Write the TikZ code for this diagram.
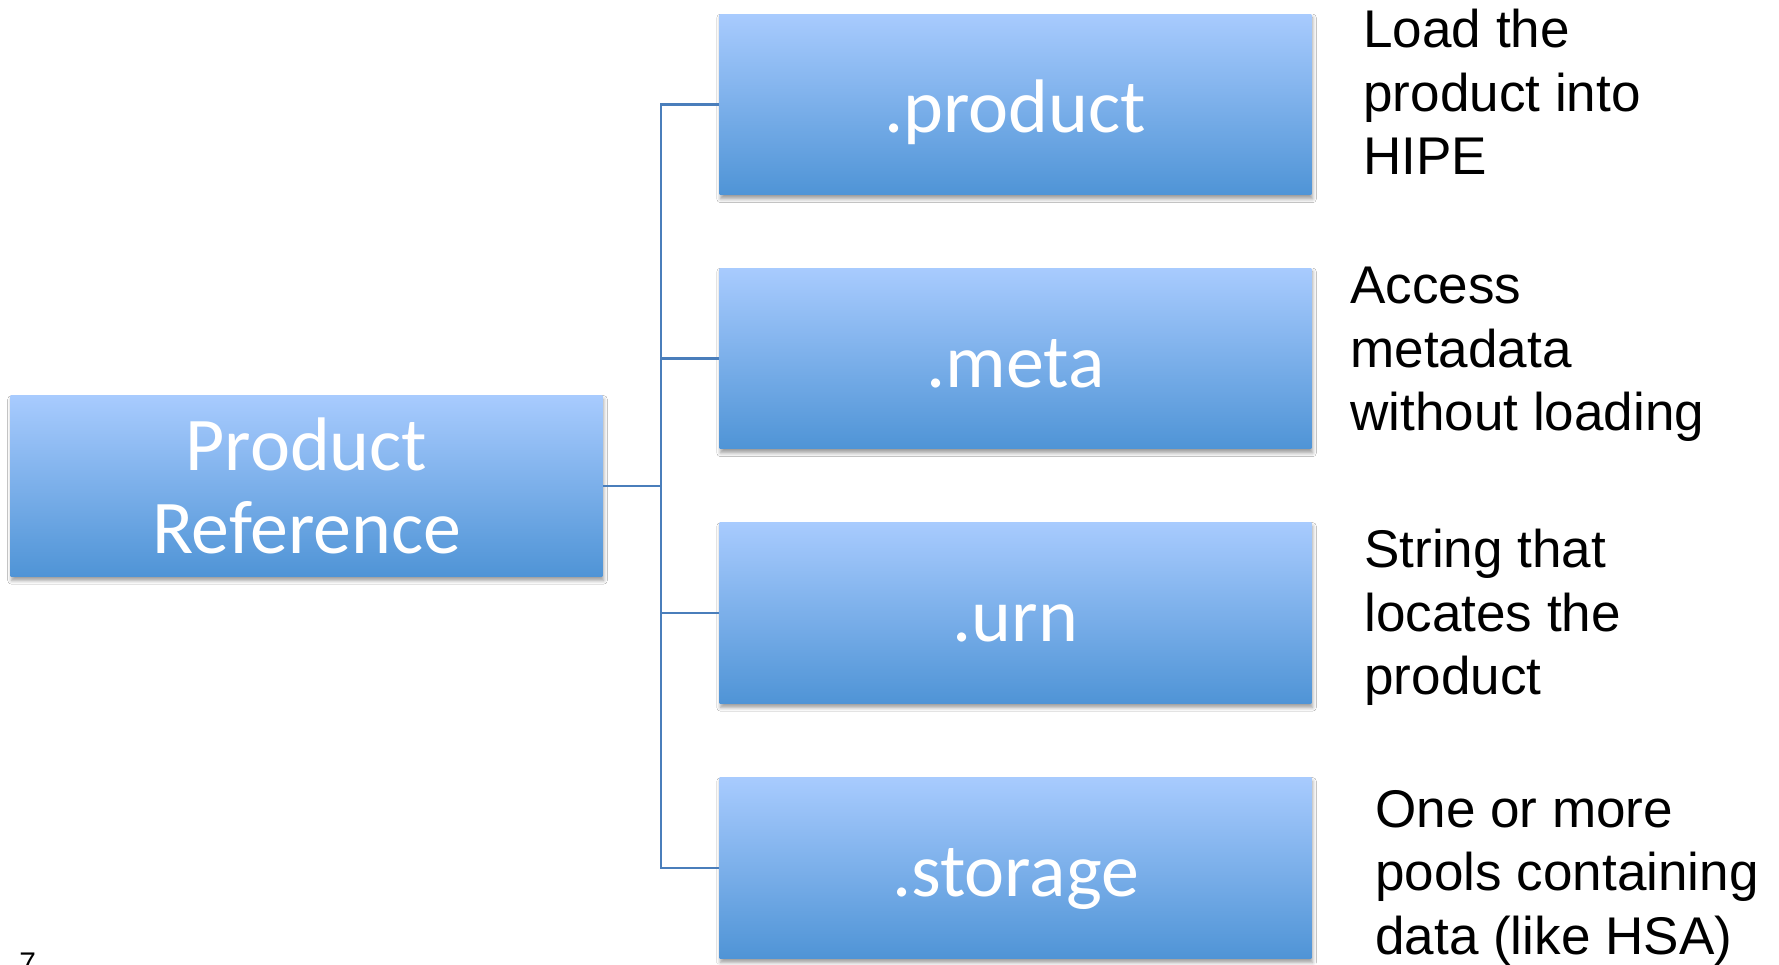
\documentclass[tikz,border=0pt]{standalone}
\usepackage{fontspec}
\setmainfont{Liberation Sans}
\newfontfamily\boxfont{Carlito}
\usetikzlibrary{shadows.blur}
\definecolor{boxtop}{RGB}{168,203,254}
\definecolor{boxbot}{RGB}{79,148,214}
\definecolor{linkblue}{RGB}{74,126,187}
\tikzset{
  keybox/.style={
    rectangle, draw=none, inner sep=0pt,
    top color=boxtop, bottom color=boxbot,
    minimum width=11.84cm, minimum height=3.62cm,
    text=white, align=center,
    font=\boxfont\fontsize{43.2}{47.2}\selectfont,
    blur shadow={shadow xshift=0.6pt, shadow yshift=-2.2pt,
                 shadow blur radius=2.2pt, shadow opacity=40}},
  onelinebox/.style={keybox, text height=1.46cm, text depth=0.32cm},
  note/.style={anchor=north west, inner sep=0pt, align=left,
    font=\fontsize{30.2}{36.1}\selectfont},
  link/.style={draw=linkblue, line width=1.2pt}
}
\begin{document}
\begin{tikzpicture}[x=0.02cm, y=-0.02cm]
  \useasboundingbox[fill=white] (0,0) rectangle (1779,964);

  % root and child boxes
  \node[keybox] (root) at (306.5,486) {Product\\Reference};
  \node[onelinebox] (prod) at (1015.5,104.5) {.product};
  \node[onelinebox] (meta) at (1015.5,358.5) {.meta};
  \node[onelinebox] (urn)  at (1015.5,613)   {.urn};
  \node[onelinebox] (stor) at (1015.5,868)   {.storage};

  % tree connector
  \coordinate (hub) at (661,486);
  \draw[link] (root.east) -- (hub);
  \draw[link] (prod.west) -- (prod.west -| hub) -- (stor.west -| hub) -- (stor.west);
  \draw[link] (meta.west) -- (meta.west -| hub);
  \draw[link] (urn.west) -- (urn.west -| hub);

  % descriptions
  \node[note] (dprod) at (1363,9)   {Load the\\product into\\HIPE};
  \node[note] (dmeta) at (1350,267) {Access\\metadata\\without loading};
  \node[note] (durn)  at (1364,529) {String that\\locates the\\product};
  \node[note] (dstor) at (1375,790) {One or more\\pools containing\\data (like HSA)};

  % page number
  \node[anchor=base west, inner sep=0pt, font=\fontsize{17}{20}\selectfont] (pg) at (19,973) {7};
\end{tikzpicture}
\end{document}
